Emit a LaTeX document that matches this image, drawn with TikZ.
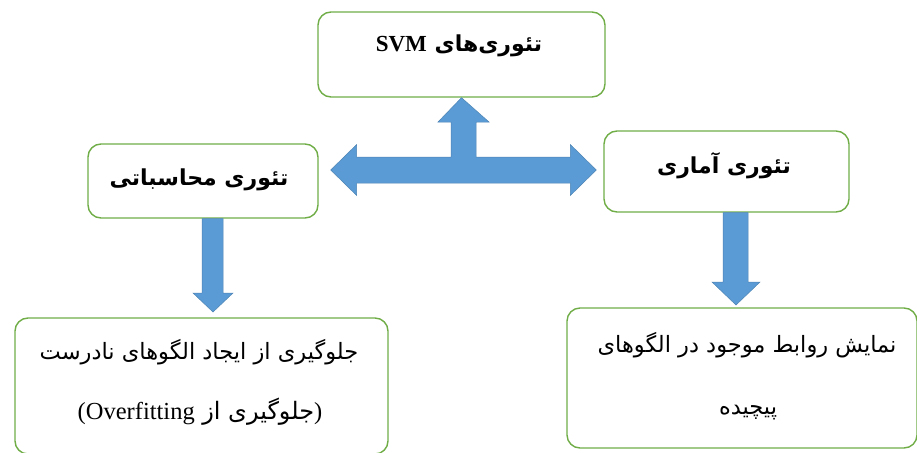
\documentclass[tikz,border=0pt]{standalone}
\usepackage{fontspec}
\setmainfont{Liberation Serif}
\newfontfamily\arfont[Script=Arabic]{DejaVu Sans}
\TeXXeTstate=1
\usetikzlibrary{calc}
\definecolor{boxgreen}{RGB}{112,173,71}
\definecolor{arrowblue}{RGB}{91,155,213}
\begin{document}
\begin{tikzpicture}[x=1pt,y=-1pt,
  box/.style={draw=boxgreen, line width=1.4pt, rounded corners=13pt, fill=white, inner sep=0pt},
  blockarrow/.style={fill=arrowblue, draw=arrowblue!85!black, line width=0.5pt, line join=miter},
  lbl/.style={inner sep=0pt, text=black},
  boldar/.style={lbl, font=\arfont\bfseries\fontsize{22}{26}\selectfont},
  plainar/.style={lbl, font=\arfont\fontsize{22.5}{26}\selectfont}]
\useasboundingbox (0,0) rectangle (917,452);
\fill[white] (0,0) rectangle (917,452);
% boxes
\node[box, minimum width=287pt, minimum height=85pt] (svm) at (461.5,54.5) {};
\node[box, minimum width=230pt, minimum height=74pt] (comp) at (203,181) {};
\node[box, minimum width=245pt, minimum height=81pt] (stat) at (726.5,171.5) {};
\node[box, minimum width=373pt, minimum height=136pt] (bl) at (201.5,386) {};
\node[box, minimum width=350pt, minimum height=140pt] (br) at (742,378) {};
% texts
\node[boldar] (svmt) at (459,46) {\beginR تئوری‌های \beginL{\rmfamily\bfseries\fontsize{23}{26}\selectfont SVM}\endL\endR};
\node[boldar] (compt) at (199,180) {\beginR تئوری محاسباتی\endR};
\node[boldar] (statt) at (724,166) {\beginR تئوری آماری\endR};
\node[plainar] (blt1) at (199,352) {\beginR جلوگیری از ایجاد الگوهای نادرست\endR};
\node[lbl, font=\fontsize{24.5}{28}\selectfont] (blt2) at (200,412) {\beginR{\rmfamily )}{\arfont\fontsize{24}{28}\selectfont جلوگیری از }\beginL Overfitting\endL{\rmfamily (}\endR};
\node[plainar] (brt1) at (747,345) {\beginR نمایش روابط موجود در الگوهای\endR};
\node[plainar] (brt2) at (748,413) {\beginR پیچیده\endR};
% connectors: block arrows
\coordinate (hl) at ($(comp.east)+(12,-11)$);
\coordinate (hr) at ($(stat.west)+(-7,-1.5)$);
\coordinate (hu) at (svm.south);
\fill[blockarrow] (hl) -- ++(26,-25.5) -- ++(0,12.5) -- (451,157) -- (451,122) -- (438,122)
  -- (hu) -- (489,122) -- (476,122) -- (476,157) -- ($(hr)+(-26,-13)$) -- ($(hr)+(-26,-25.5)$)
  -- (hr) -- ($(hr)+(-26,25.5)$) -- ($(hr)+(-26,13)$) -- ($(hl)+(26,13)$) -- ($(hl)+(26,25.5)$) -- cycle;
\coordinate (d1) at (comp.south);
\coordinate (d1t) at (213,312);
\fill[blockarrow] ($(d1)+(-1,0)$) -- ($(d1)+(20,0)$) -- (223,293) -- (233,293) -- (d1t) -- (193,293) -- (202,293) -- cycle;
\coordinate (d2) at (stat.south);
\coordinate (d2t) at (736,305);
\fill[blockarrow] ($(d2)+(-3.5,0)$) -- ($(d2)+(21.5,0)$) -- (748,282) -- (760,282) -- (d2t) -- (712,282) -- (723,282) -- cycle;
\end{tikzpicture}
\end{document}
